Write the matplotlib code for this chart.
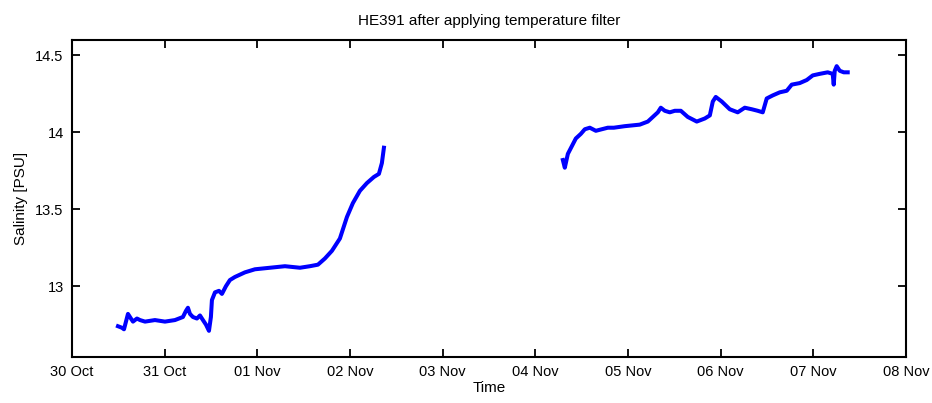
import numpy as np
import matplotlib
matplotlib.use("Agg")
import matplotlib.pyplot as plt
import matplotlib.dates as mdates
from datetime import datetime, timedelta

# Time in days after 30 Oct 00:00, salinity in PSU
seg1_days = [0.496, 0.539, 0.561, 0.604, 0.636, 0.658, 0.701, 0.734, 0.788, 0.895,
             1.003, 1.111, 1.197, 1.230, 1.251, 1.273, 1.305, 1.348, 1.381, 1.413,
             1.446, 1.478, 1.499, 1.510, 1.543, 1.586, 1.618, 1.661, 1.704, 1.758,
             1.866, 1.974, 2.136, 2.298, 2.460, 2.567, 2.654, 2.729, 2.805, 2.891,
             2.967, 3.031, 3.107, 3.182, 3.258, 3.312, 3.344, 3.366]
seg1_sal = [12.74, 12.73, 12.72, 12.82, 12.79, 12.77, 12.79, 12.78, 12.77, 12.78,
            12.77, 12.78, 12.80, 12.84, 12.86, 12.82, 12.80, 12.79, 12.81, 12.78,
            12.75, 12.71, 12.80, 12.91, 12.96, 12.97, 12.95, 13.00, 13.04, 13.06,
            13.09, 13.11, 13.12, 13.13, 13.12, 13.13, 13.14, 13.18, 13.23, 13.31,
            13.45, 13.54, 13.62, 13.67, 13.71, 13.73, 13.80, 13.90]
seg2_days = [5.297, 5.318, 5.351, 5.394, 5.437, 5.491, 5.534, 5.588, 5.653, 5.717,
             5.782, 5.847, 5.965, 6.127, 6.214, 6.268, 6.322, 6.354, 6.397, 6.451,
             6.505, 6.570, 6.645, 6.742, 6.829, 6.883, 6.915, 6.947, 7.012, 7.098,
             7.184, 7.260, 7.335, 7.400, 7.454, 7.497, 7.562, 7.638, 7.713, 7.767,
             7.853, 7.929, 7.994, 8.069, 8.155, 8.209, 8.220, 8.231, 8.252, 8.285,
             8.328, 8.371]
seg2_sal = [13.82, 13.77, 13.86, 13.91, 13.96, 13.99, 14.02, 14.03, 14.01, 14.02,
            14.03, 14.03, 14.04, 14.05, 14.07, 14.10, 14.13, 14.16, 14.14, 14.13,
            14.14, 14.14, 14.10, 14.07, 14.09, 14.11, 14.20, 14.23, 14.20, 14.15,
            14.13, 14.16, 14.15, 14.14, 14.13, 14.22, 14.24, 14.26, 14.27, 14.31,
            14.32, 14.34, 14.37, 14.38, 14.39, 14.38, 14.31, 14.40, 14.43, 14.40,
            14.39, 14.39]

base = datetime(2015, 10, 30)
tick_days = list(range(0, 10))
yticks = [13.0, 13.5, 14.0, 14.5]
ytick_labels = ["13", "13.5", "14", "14.5"]

plt.rcParams['font.family'] = ['Liberation Sans', 'DejaVu Sans']
fig = plt.figure(figsize=(9.32, 4.03), dpi=100)
ax = fig.add_axes([72/932, 46/403, 834/932, 317/403])

for d, s in [(seg1_days, seg1_sal), (seg2_days, seg2_sal)]:
    t = [base + timedelta(days=v) for v in d]
    ax.plot(t, s, color='#0000ff', lw=2.9, solid_joinstyle='round')

ax.set_xlim(base, base + timedelta(days=9))
ax.set_ylim(12.54, 14.6)
ax.set_xticks([base + timedelta(days=v) for v in tick_days])
ax.xaxis.set_major_formatter(mdates.DateFormatter('%d %b'))
ax.set_yticks(yticks)
ax.set_yticklabels(ytick_labels)
ax.tick_params(direction='in', length=6, width=1.3, top=True, right=True,
               labelsize=10.5, pad=6, colors='black')
for sp in ax.spines.values():
    sp.set_linewidth(1.5)
ax.set_xlabel('Time', fontsize=11, labelpad=1)
ax.set_ylabel('Salinity [PSU]', fontsize=11, labelpad=5)
ax.set_title('HE391 after applying temperature filter', fontsize=11, pad=11)

fig.savefig('out.png', dpi=100)
